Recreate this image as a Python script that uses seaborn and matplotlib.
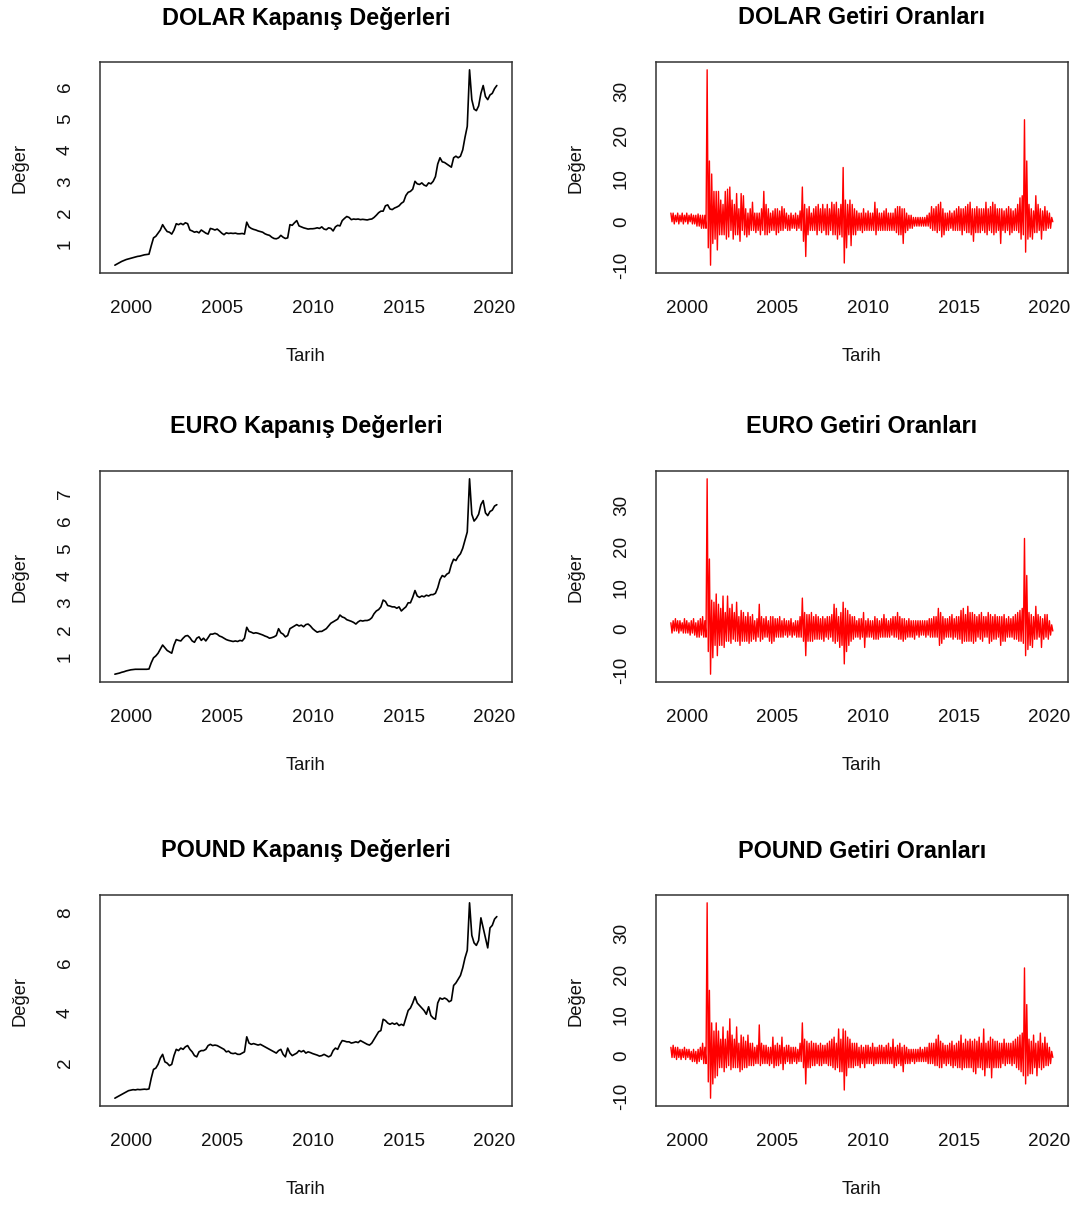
import numpy as np
import matplotlib
matplotlib.use("Agg")
import matplotlib.pyplot as plt
import seaborn as sns

sns.set_style("white")
plt.rcParams["font.family"] = ["Liberation Sans", "DejaVu Sans"]
plt.rcParams["axes.unicode_minus"] = False
plt.rcParams["text.color"] = "black"

# zaman ekseni: 1999.125'ten 2020.125'e, yılda 8 okuma
YEARS = np.arange(169) / 8 + 1999.125

# kapanış değerleri
DOLAR_CLOSE = [
    0.33, 0.37, 0.41, 0.45, 0.48, 0.51, 0.53,
    0.55, 0.57, 0.59, 0.61, 0.62, 0.64, 0.66, 0.67,
    0.68, 0.95, 1.20, 1.25, 1.35, 1.45, 1.62, 1.50,
    1.40, 1.38, 1.32, 1.45, 1.65, 1.62, 1.66, 1.62,
    1.68, 1.65, 1.45, 1.42, 1.38, 1.40, 1.36, 1.45,
    1.40, 1.35, 1.32, 1.50, 1.48, 1.45, 1.48, 1.42,
    1.35, 1.30, 1.36, 1.34, 1.35, 1.34, 1.35, 1.33,
    1.33, 1.34, 1.32, 1.70, 1.55, 1.50, 1.47, 1.45,
    1.42, 1.40, 1.38, 1.33, 1.30, 1.28, 1.22, 1.18,
    1.17, 1.20, 1.28, 1.22, 1.18, 1.20, 1.62, 1.60,
    1.68, 1.75, 1.58, 1.55, 1.52, 1.50, 1.48, 1.49,
    1.49, 1.50, 1.52, 1.50, 1.55, 1.48, 1.46, 1.52,
    1.50, 1.42, 1.55, 1.60, 1.58, 1.75, 1.82, 1.88,
    1.85, 1.78, 1.80, 1.79, 1.80, 1.78, 1.79, 1.78,
    1.77, 1.79, 1.80, 1.85, 1.92, 2.00, 2.05, 2.05,
    2.22, 2.25, 2.12, 2.10, 2.15, 2.18, 2.22, 2.30,
    2.35, 2.55, 2.65, 2.68, 2.75, 3.00, 2.92, 2.90,
    2.95, 2.88, 2.85, 2.95, 2.92, 3.00, 3.15, 3.55,
    3.75, 3.62, 3.60, 3.55, 3.50, 3.45, 3.75, 3.80,
    3.75, 3.80, 4.00, 4.40, 4.75, 6.55, 5.60, 5.30,
    5.25, 5.40, 5.80, 6.05, 5.70, 5.60, 5.75, 5.80,
    5.95, 6.05,
]
EURO_CLOSE = [
    0.38, 0.40, 0.42, 0.45, 0.47, 0.50, 0.52,
    0.54, 0.55, 0.56, 0.56, 0.56, 0.56, 0.56, 0.56,
    0.57, 0.80, 0.98, 1.05, 1.15, 1.30, 1.45, 1.35,
    1.25, 1.20, 1.15, 1.45, 1.65, 1.62, 1.60, 1.70,
    1.78, 1.80, 1.72, 1.60, 1.55, 1.70, 1.75, 1.62,
    1.70, 1.60, 1.72, 1.85, 1.85, 1.88, 1.85, 1.78,
    1.75, 1.70, 1.65, 1.62, 1.60, 1.58, 1.60, 1.58,
    1.62, 1.60, 1.70, 2.10, 1.95, 1.92, 1.88, 1.90,
    1.88, 1.85, 1.82, 1.78, 1.75, 1.70, 1.72, 1.75,
    1.80, 2.05, 1.90, 1.85, 1.75, 1.80, 2.05, 2.10,
    2.15, 2.20, 2.15, 2.18, 2.12, 2.20, 2.22, 2.15,
    2.05, 1.98, 1.92, 1.95, 1.95, 2.00, 2.05, 2.15,
    2.25, 2.30, 2.35, 2.40, 2.55, 2.48, 2.45, 2.38,
    2.35, 2.32, 2.28, 2.22, 2.30, 2.35, 2.33, 2.35,
    2.35, 2.38, 2.45, 2.60, 2.70, 2.75, 2.85, 3.10,
    3.05, 2.90, 2.88, 2.85, 2.85, 2.80, 2.85, 2.70,
    2.78, 2.85, 3.00, 3.00, 3.20, 3.45, 3.25, 3.20,
    3.25, 3.22, 3.28, 3.25, 3.30, 3.30, 3.35, 3.55,
    3.85, 4.00, 3.95, 4.05, 4.10, 4.40, 4.60, 4.55,
    4.70, 4.80, 5.00, 5.30, 5.60, 7.55, 6.25, 6.00,
    6.10, 6.25, 6.60, 6.75, 6.30, 6.20, 6.35, 6.40,
    6.55, 6.60,
]
POUND_CLOSE = [
    0.60, 0.65, 0.70, 0.75, 0.80, 0.85, 0.90,
    0.92, 0.94, 0.93, 0.95, 0.94, 0.95, 0.96, 0.95,
    0.97, 1.40, 1.75, 1.80, 1.95, 2.20, 2.35, 2.05,
    2.00, 1.90, 1.95, 2.30, 2.55, 2.50, 2.60, 2.55,
    2.65, 2.70, 2.55, 2.45, 2.30, 2.25, 2.45, 2.50,
    2.50, 2.55, 2.70, 2.75, 2.70, 2.72, 2.70, 2.65,
    2.60, 2.55, 2.45, 2.48, 2.40, 2.38, 2.40, 2.35,
    2.35, 2.40, 2.45, 3.05, 2.80, 2.75, 2.78, 2.75,
    2.72, 2.75, 2.70, 2.65, 2.60, 2.55, 2.50, 2.45,
    2.40, 2.50, 2.55, 2.35, 2.25, 2.60, 2.40, 2.30,
    2.35, 2.40, 2.50, 2.45, 2.50, 2.40, 2.45, 2.42,
    2.38, 2.35, 2.32, 2.28, 2.30, 2.35, 2.30, 2.25,
    2.30, 2.50, 2.60, 2.55, 2.75, 2.90, 2.88, 2.85,
    2.85, 2.80, 2.82, 2.85, 2.82, 2.90, 2.85, 2.80,
    2.75, 2.72, 2.80, 2.95, 3.10, 3.25, 3.30, 3.75,
    3.70, 3.60, 3.55, 3.60, 3.55, 3.60, 3.50, 3.55,
    3.50, 3.80, 4.10, 4.20, 4.40, 4.65, 4.40, 4.30,
    4.20, 4.10, 3.95, 4.25, 3.90, 3.80, 3.75, 4.40,
    4.60, 4.55, 4.60, 4.55, 4.45, 4.50, 5.10, 5.20,
    5.35, 5.50, 5.80, 6.20, 6.50, 8.40, 7.10, 6.80,
    6.70, 6.90, 7.80, 7.40, 7.00, 6.60, 7.40, 7.50,
    7.75, 7.85,
]

# getiri oranları: her okuma aralığının üst ve alt uçları (%)
DOLAR_RET_HI = [
    2, 2, 1.5, 2, 1.5, 2, 1.5,
    2, 1.5, 1.8, 1.5, 1.5, 1.8, 1.5, 1.5,
    1.5, 35, 14, 11, 7, 7, 7, 5,
    4, 7, 7.5, 8, 5, 4, 6.5, 3,
    6.5, 6, 3, 2, 3, 4.5, 2, 2,
    2, 3, 7, 4, 3, 2, 2.5, 3,
    3, 2.5, 3.5, 3, 2, 1.5, 2, 1.5,
    2, 1.5, 2.5, 8, 4, 3, 3.5, 2,
    3, 3.5, 4, 3, 4, 3, 4, 3,
    4.5, 4, 4.5, 3, 4, 12.5, 5, 4,
    5, 4, 3, 2.5, 2, 2, 3, 2,
    2.5, 2, 2, 4.5, 3, 2, 2, 2.5,
    3, 2, 2, 2, 3, 3.5, 3.5, 3,
    3, 2, 1.5, 1.5, 1, 1, 1, 1,
    1, 1, 1.5, 2, 3.5, 3, 3.5, 4,
    4.5, 3, 2, 2, 2.5, 2, 2.5, 3,
    3.5, 3, 3, 3.5, 4, 4.5, 3, 3,
    3.5, 3, 3, 3, 4.5, 3, 3.5, 4.5,
    4, 3, 3, 3, 2.5, 3, 3.5, 3,
    2.5, 3, 4, 5.5, 6, 23.5, 14, 4,
    3, 2.5, 6, 4, 3, 2.5, 3.5, 2.5,
    2, 1,
]
DOLAR_RET_LO = [
    0, -0.5, 0, -0.5, 0, -0.5, 0,
    -0.5, 0, -0.5, -0.5, -1, -1, -1.5, -1.5,
    -1.5, -6, -10, -5, -4, -6.5, -3, -3,
    -3, -4, -3.5, -2, -4, -3, -3, -4.5,
    -2, -3, -3.5, -3, -2, -2, -2.5, -2,
    -3, -2, -3, -3, -2.5, -2, -2, -3,
    -2.5, -2, -2, -1.5, -2, -2, -1.5, -1.5,
    -2, -1.5, -2, -4.5, -8, -3, -2, -2,
    -2, -3, -2, -2.5, -2, -3, -3, -2,
    -3, -3, -4, -3, -3.5, -9.5, -6, -3,
    -5.5, -3, -3, -2, -2, -2.5, -2, -2,
    -2, -2, -2, -3, -2, -2, -2, -2,
    -2, -2, -2, -2, -2.5, -3, -3, -5,
    -2.5, -2, -1.5, -1.5, -1, -1, -1, -1,
    -1, -1, -1, -1.5, -2, -2, -2.5, -2,
    -3.5, -3, -2, -2, -1.5, -2, -2, -2,
    -2, -3, -2, -2.5, -2.5, -3, -4.5, -2.5,
    -2.5, -2.5, -2, -2.5, -3, -2, -2.5, -3,
    -2.5, -2, -5, -2, -2.5, -2, -3, -2.5,
    -2, -2, -2.5, -4, -3, -7, -4, -3.5,
    -4, -2.5, -2.5, -2, -4, -2, -2, -1.5,
    -1.5, 0,
]
EURO_RET_HI = [
    1.5, 2, 2.5, 2, 2, 1.5, 2.5,
    2, 1.5, 2, 2.5, 1.5, 2, 2.5, 3,
    2, 36.5, 17, 7, 6.5, 8.5, 6, 5,
    8, 4, 8, 5, 6, 4, 6.5, 3,
    4.5, 4, 3, 4, 3, 3.5, 2, 2.5,
    6, 3, 2.5, 3, 2, 3, 3, 2.5,
    2.5, 3, 2, 2.5, 2, 2, 2.5, 1.5,
    2, 2, 3, 7.5, 4, 3.5, 3.5, 4,
    3, 3.5, 3, 2.5, 3, 2.5, 3, 3,
    3.5, 6, 5, 3, 4, 6.5, 5, 4.5,
    3.5, 3, 3, 2, 2.5, 2.5, 4, 2,
    2.5, 2, 2, 3, 2.5, 2, 2.5, 3.5,
    2.5, 2, 2.5, 3, 3, 4, 3, 2.5,
    2.5, 2, 2.5, 2, 2, 2, 2, 2,
    2, 2, 2, 2.5, 2.5, 3, 3, 5,
    4, 3, 2.5, 2.5, 3, 3.5, 2.5, 3,
    3, 4.5, 5, 3.5, 5.5, 4, 4, 3.5,
    3, 3.5, 4, 3, 3, 4, 3.5, 3,
    3.5, 3, 3, 3, 3.5, 2.5, 3, 2.5,
    3, 3.5, 4, 4.5, 5, 22, 13, 4,
    3.5, 3, 5.5, 3.5, 3, 2.5, 3.5, 3.5,
    2, 1,
]
EURO_RET_LO = [
    -1, -0.5, -0.5, -1, -0.5, -1, -1,
    -1, -1.5, -1, -1.5, -2, -2, -1.5, -2,
    -2, -5.5, -11, -7, -4, -6.5, -4, -4,
    -4.5, -3, -3, -3.5, -2.5, -3, -3, -4,
    -3, -3, -3, -3.5, -3, -2.5, -3, -2,
    -3, -2.5, -2, -2, -3, -3.5, -3, -2,
    -2, -2, -2, -1.5, -2, -1.5, -2, -1.5,
    -2, -2, -2, -3, -6.5, -3, -3, -3,
    -2.5, -2.5, -2.5, -2.5, -3, -2, -2.5, -2,
    -3, -3.5, -3, -4.5, -4, -8.5, -5.5, -4,
    -3, -2.5, -2, -2, -2.5, -2, -4.5, -2,
    -2, -2, -2.5, -2.5, -2.5, -2, -2, -2,
    -2, -2, -1.5, -2, -2, -2.5, -2.5, -3,
    -2.5, -2, -2, -2, -2.5, -1.5, -2, -1.5,
    -1.5, -2, -1.5, -2, -2, -2, -2, -4,
    -3.5, -2.5, -2, -2, -2, -2.5, -2, -2.5,
    -2.5, -3.5, -3, -3, -3, -3, -3.5, -3,
    -2, -2.5, -3, -2, -2, -3.5, -3, -2.5,
    -2.5, -2, -4, -3, -3, -2, -2, -2,
    -2.5, -2.5, -3, -3, -3.5, -6.5, -5, -4,
    -4.5, -2.5, -2.5, -2, -4.5, -2.5, -2, -2.5,
    -1.5, -0.5,
]
POUND_RET_HI = [
    2, 2.5, 2, 2, 1.5, 1.5, 2,
    1.5, 1.5, 1, 1.5, 1, 1.5, 2, 3,
    2, 37.5, 16, 8, 6, 8, 6, 4,
    7, 4, 6, 9, 5, 4, 7, 3,
    5, 4.5, 3.5, 5, 3, 3, 2, 2.5,
    7.5, 3, 2.5, 2.5, 2, 2, 4.5, 2.5,
    3, 2.5, 4.5, 2, 2.5, 2.5, 2, 2,
    2, 1.5, 3, 8, 4, 3.5, 3, 3.5,
    3, 3, 2.5, 3, 2.5, 2.5, 3, 3.5,
    4, 4.5, 3, 6.5, 4, 6.5, 6, 4.5,
    4, 3, 3, 3, 2, 2.5, 2, 2.5,
    2.5, 2, 3, 2, 2, 2.5, 2.5, 2,
    2.5, 3, 2, 4, 2, 2.5, 3, 2,
    2.5, 2, 1.5, 1.5, 1.5, 1.5, 1.5, 2,
    1.5, 2, 2, 3, 3, 3, 4, 5,
    3.5, 3, 2.5, 2.5, 3, 3.5, 2.5, 3,
    3.5, 5, 3, 4, 3.5, 4, 3.5, 4,
    3.5, 4.5, 3, 6.5, 3, 3.5, 4.5, 4,
    3.5, 3.5, 3, 3, 4, 3, 3, 3,
    3.5, 4, 4.5, 5, 5.5, 21.5, 12.5, 4,
    3.5, 5, 3, 3.5, 5.5, 3, 4.5, 3,
    2, 1,
]
POUND_RET_LO = [
    -0.5, -0.5, -1, -0.5, -1, -0.5, -1,
    -0.5, -1, -1.5, -1.5, -2, -1.5, -1, -2,
    -2, -6.5, -10.5, -7, -5.5, -5, -3, -3,
    -4, -3, -2.5, -3.5, -3, -3, -3, -4,
    -3.5, -3, -3, -2.5, -2.5, -2.5, -2, -2,
    -2.5, -2, -2, -2, -2.5, -2, -3, -2.5,
    -2.5, -2, -3.5, -2, -1.5, -2, -2, -1.5,
    -2, -1.5, -1.5, -3, -7, -3, -3, -2.5,
    -2.5, -2, -2.5, -2.5, -2, -2, -2.5, -2.5,
    -3, -3.5, -3, -4, -4, -8.5, -5, -3,
    -3, -3, -2.5, -2.5, -3, -2, -3, -2,
    -2, -2, -2.5, -2, -2, -2, -2, -2,
    -2, -2, -2, -3, -2.5, -2, -2.5, -4,
    -2, -2, -2, -1.5, -2, -1.5, -1.5, -1.5,
    -1.5, -1.5, -2, -2, -2, -2.5, -2.5, -3,
    -3, -2, -2.5, -2, -2.5, -3, -2.5, -3,
    -3, -3.5, -3, -3, -3, -3, -4, -4.5,
    -3, -3, -3.5, -5, -3, -3, -5.5, -3,
    -3, -3, -3, -2, -2.5, -2, -2, -2.5,
    -2, -3, -3.5, -4, -5, -7, -5, -4.5,
    -4.5, -3, -5, -3, -3.5, -3, -2.5, -2.5,
    -2, -0.5,
]

CURRENCIES = ["DOLAR", "EURO", "POUND"]
CLOSE = [DOLAR_CLOSE, EURO_CLOSE, POUND_CLOSE]
RET_HI = [DOLAR_RET_HI, EURO_RET_HI, POUND_RET_HI]
RET_LO = [DOLAR_RET_LO, EURO_RET_LO, POUND_RET_LO]
CLOSE_TICKS = [[1, 2, 3, 4, 5, 6], [1, 2, 3, 4, 5, 6, 7], [2, 4, 6, 8]]
RET_TICKS = [-10, 0, 10, 20, 30]
X_TICKS = [2000, 2005, 2010, 2015, 2020]

for arr in CLOSE + RET_HI + RET_LO:
    assert len(arr) == len(YEARS), len(arr)

W, H = 1081, 1205
fig = plt.figure(figsize=(W / 100, H / 100), dpi=100)

# kutu konumları (piksel): sol, üst, genişlik, yükseklik
COL_X = [99.6, 655.6]
ROW_Y = [62, 471, 895]
BOX_W, BOX_H = 412.5, 211


def r_style(ax, yticks):
    ax.set_xticks(X_TICKS)
    ax.set_yticks(yticks)
    ax.tick_params(axis="both", direction="out", length=8.5, width=0.9,
                   color="#333333", labelsize=13.6, labelcolor="#111111")
    ax.tick_params(axis="x", pad=11)
    ax.tick_params(axis="y", labelrotation=90, pad=10)
    plt.setp(ax.get_yticklabels(), va="center")
    for s in ax.spines.values():
        s.set_visible(True)
        s.set_color("#333333")
        s.set_linewidth(1.1)
    ax.set_xlabel("Tarih", fontsize=13.2, color="#111111")
    ax.set_ylabel("Değer", fontsize=13.2, color="#111111")
    ax.xaxis.set_label_coords(0.5, -0.395)
    ax.xaxis.label.set_va("center")
    ax.yaxis.set_label_coords(-0.194, 0.5)
    ax.yaxis.label.set_va("center")


def pad_lim(vals):
    lo, hi = float(np.min(vals)), float(np.max(vals))
    d = (hi - lo) * 0.04
    return lo - d, hi + d


for r, name in enumerate(CURRENCIES):
    for c in range(2):
        ax = fig.add_axes([COL_X[c] / W, 1 - (ROW_Y[r] + BOX_H) / H,
                           BOX_W / W, BOX_H / H])
        if c == 0:
            x = YEARS
            y = np.asarray(CLOSE[r])
            sns.lineplot(x=x, y=y, ax=ax, color="black", linewidth=1.2,
                         estimator=None, sort=False)
            title = f"{name} Kapanış Değerleri"
            yt = CLOSE_TICKS[r]
        else:
            x = np.column_stack([YEARS, YEARS + 1 / 16]).ravel()
            y = np.column_stack([RET_HI[r], RET_LO[r]]).ravel()
            sns.lineplot(x=x, y=y, ax=ax, color="#ff0000", linewidth=1.0,
                         estimator=None, sort=False)
            title = f"{name} Getiri Oranları"
            yt = RET_TICKS
        ax.set_xlim(*pad_lim(x))
        ax.set_ylim(*pad_lim(y))
        ax.set_title(title, fontsize=16.8, fontweight="bold", pad=27,
                     color="black")
        r_style(ax, yt)

fig.savefig("out.png", dpi=100)
